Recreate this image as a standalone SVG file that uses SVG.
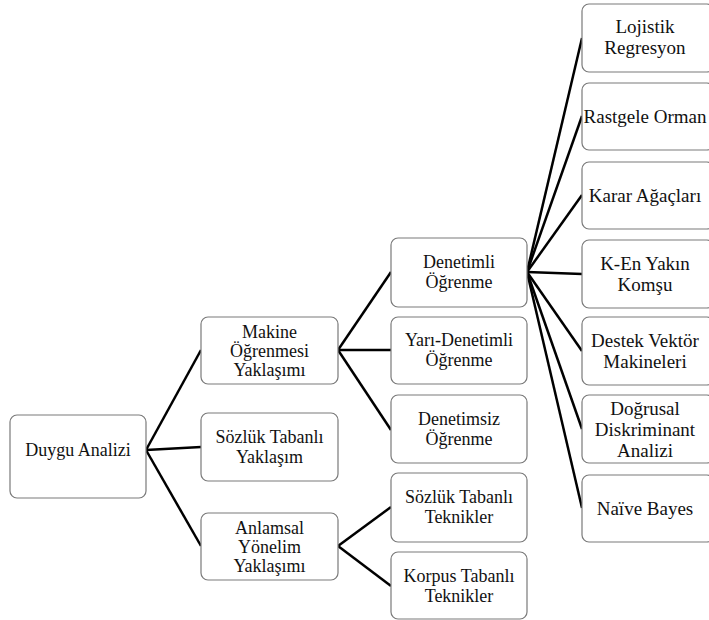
<svg xmlns="http://www.w3.org/2000/svg" width="709" height="620" viewBox="0 0 709 620">
<style>
.box{fill:#ffffff;stroke:#7a7a7a;stroke-width:1.2}
text{font-family:'Liberation Serif','Times New Roman',Tinos,'DejaVu Serif',serif;fill:#111;text-anchor:middle}
.t{font-size:18px}
.t2{font-size:19px}
.edge{stroke:#000;stroke-width:2.5;fill:none}
</style>
<rect width="709" height="620" fill="#ffffff"/>
<g id="connectors">
<line class="edge" x1="146" y1="450" x2="201" y2="350"/>
<line class="edge" x1="146" y1="450" x2="201" y2="447"/>
<line class="edge" x1="146" y1="450" x2="201" y2="546"/>
<line class="edge" x1="338" y1="350" x2="391" y2="272"/>
<line class="edge" x1="338" y1="350" x2="391" y2="350"/>
<line class="edge" x1="338" y1="350" x2="391" y2="430"/>
<line class="edge" x1="338" y1="546" x2="391" y2="507"/>
<line class="edge" x1="338" y1="546" x2="391" y2="586"/>
<line class="edge" x1="527" y1="272" x2="582" y2="38"/>
<line class="edge" x1="527" y1="272" x2="582" y2="116"/>
<line class="edge" x1="527" y1="272" x2="582" y2="195"/>
<line class="edge" x1="527" y1="272" x2="582" y2="274"/>
<line class="edge" x1="527" y1="272" x2="582" y2="351"/>
<line class="edge" x1="527" y1="272" x2="582" y2="429"/>
<line class="edge" x1="527" y1="272" x2="582" y2="508"/>
</g>
<g id="n-duygu"><rect class="box" x="10" y="415" width="136" height="83" rx="7"/><text class="t" x="78" y="456">Duygu Analizi</text></g>
<g id="n-makine"><rect class="box" x="201" y="317" width="137" height="67" rx="7"/><text class="t" x="269.5" y="337.5">Makine</text><text class="t" x="269.5" y="356.5">Öğrenmesi</text><text class="t" x="269.5" y="375.5">Yaklaşımı</text></g>
<g id="n-sozluk"><rect class="box" x="201" y="413" width="137" height="68" rx="7"/><text class="t" x="269.5" y="443">Sözlük Tabanlı</text><text class="t" x="269.5" y="463">Yaklaşım</text></g>
<g id="n-anlamsal"><rect class="box" x="201" y="513" width="137" height="67" rx="7"/><text class="t" x="269.5" y="533.5">Anlamsal</text><text class="t" x="269.5" y="552.5">Yönelim</text><text class="t" x="269.5" y="571.5">Yaklaşımı</text></g>
<g id="n-denetimli"><rect class="box" x="391" y="238" width="136" height="69" rx="7"/><text class="t" x="459" y="268">Denetimli</text><text class="t" x="459" y="288">Öğrenme</text></g>
<g id="n-yari"><rect class="box" x="391" y="317" width="136" height="67" rx="7"/><text class="t" x="459" y="346">Yarı-Denetimli</text><text class="t" x="459" y="366">Öğrenme</text></g>
<g id="n-denetimsiz"><rect class="box" x="391" y="395" width="136" height="68" rx="7"/><text class="t" x="459" y="425">Denetimsiz</text><text class="t" x="459" y="445">Öğrenme</text></g>
<g id="n-sozluk-tek"><rect class="box" x="391" y="473" width="136" height="69" rx="7"/><text class="t" x="459" y="503">Sözlük Tabanlı</text><text class="t" x="459" y="523">Teknikler</text></g>
<g id="n-korpus"><rect class="box" x="391" y="552" width="136" height="67" rx="7"/><text class="t" x="459" y="582">Korpus Tabanlı</text><text class="t" x="459" y="602">Teknikler</text></g>
<g id="n-lojistik"><rect class="box" x="582" y="4" width="132" height="68" rx="7"/><text class="t2" x="645" y="33">Lojistik</text><text class="t2" x="645" y="54">Regresyon</text></g>
<g id="n-rastgele"><rect class="box" x="582" y="83" width="132" height="67" rx="7"/><text class="t2" x="645" y="123">Rastgele Orman</text></g>
<g id="n-karar"><rect class="box" x="582" y="162" width="132" height="67" rx="7"/><text class="t2" x="645" y="202">Karar Ağaçları</text></g>
<g id="n-ken"><rect class="box" x="582" y="240" width="132" height="68" rx="7"/><text class="t2" x="645" y="270">K-En Yakın</text><text class="t2" x="645" y="291">Komşu</text></g>
<g id="n-destek"><rect class="box" x="582" y="317" width="132" height="68" rx="7"/><text class="t2" x="645" y="347">Destek Vektör</text><text class="t2" x="645" y="368">Makineleri</text></g>
<g id="n-dogrusal"><rect class="box" x="582" y="395" width="132" height="68" rx="7"/><text class="t2" x="645" y="415">Doğrusal</text><text class="t2" x="645" y="436">Diskriminant</text><text class="t2" x="645" y="457">Analizi</text></g>
<g id="n-naive"><rect class="box" x="582" y="475" width="132" height="67" rx="7"/><text class="t2" x="645" y="515">Naïve Bayes</text></g>
</svg>
